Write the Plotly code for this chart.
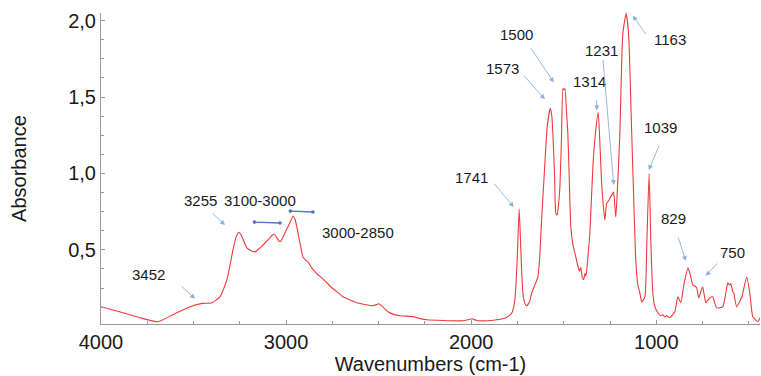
import plotly.graph_objects as go

# FTIR spectrum: wavenumber (cm-1) and absorbance
wavenumber = [
    4000, 3900, 3789, 3692, 3611, 3519, 3452, 3401, 3357, 3320, 3287, 3270,
    3255, 3240, 3212, 3190, 3168, 3140, 3114, 3090, 3071, 3060, 3039, 3030,
    3015, 2996, 2975, 2963, 2952, 2942, 2925, 2909, 2895, 2882, 2861, 2835,
    2807, 2780, 2753, 2709, 2693, 2655, 2618, 2575, 2537, 2515, 2499, 2480,
    2450, 2420, 2385, 2315, 2280, 2240, 2150, 2045, 2010, 1996, 1975, 1953,
    1880, 1829, 1800, 1780, 1764, 1752, 1741, 1732, 1721, 1710, 1700, 1685,
    1673, 1656, 1640, 1630, 1619, 1602, 1590, 1573, 1565, 1559, 1550, 1543,
    1536, 1528, 1521, 1512, 1505, 1500, 1494, 1485, 1478, 1470, 1462, 1450,
    1440, 1425, 1415, 1408, 1400, 1392, 1386, 1380, 1370, 1359, 1343, 1330,
    1314, 1305, 1296, 1289, 1278, 1268, 1255, 1250, 1240, 1231, 1225, 1219,
    1212, 1197, 1181, 1163, 1150, 1133, 1120, 1111, 1100, 1089, 1079, 1062,
    1051, 1039, 1030, 1019, 1008, 992, 978, 965, 955, 945, 935, 927,
    900, 884, 868, 850, 829, 815, 803, 790, 782, 771, 750, 733,
    722, 711, 695, 684, 674, 641, 614, 608, 603, 598, 587, 582,
    566, 538, 512, 495, 479, 452, 440,
]
absorbance = [
    0.128, 0.095, 0.056, 0.030, 0.076, 0.128, 0.150, 0.154, 0.193, 0.304, 0.500, 0.585,
    0.615, 0.590, 0.513, 0.495, 0.487, 0.515, 0.545, 0.575, 0.600, 0.598, 0.558, 0.555,
    0.590, 0.637, 0.690, 0.722, 0.700, 0.650, 0.545, 0.454, 0.435, 0.421, 0.382, 0.345,
    0.317, 0.285, 0.252, 0.210, 0.193, 0.172, 0.154, 0.143, 0.134, 0.140, 0.147, 0.130,
    0.095, 0.078, 0.069, 0.063, 0.052, 0.043, 0.038, 0.036, 0.044, 0.049, 0.040, 0.036,
    0.040, 0.049, 0.065, 0.089, 0.174, 0.430, 0.767, 0.500, 0.219, 0.150, 0.134, 0.160,
    0.219, 0.271, 0.324, 0.450, 0.715, 1.067, 1.300, 1.426, 1.380, 1.263, 1.000, 0.741,
    0.728, 0.800, 0.911, 1.250, 1.556, 1.545, 1.556, 1.400, 1.263, 0.950, 0.650, 0.530,
    0.480, 0.400, 0.360, 0.385, 0.320, 0.305, 0.345, 0.330, 0.450, 0.610, 1.040, 1.250,
    1.400, 1.200, 0.950, 0.826, 0.695, 0.806, 0.826, 0.840, 0.860, 0.878, 0.800, 0.715,
    0.850, 1.263, 1.915, 2.046, 1.915, 1.263, 0.750, 0.434, 0.270, 0.219, 0.160, 0.193,
    0.565, 1.000, 0.565, 0.219, 0.128, 0.089, 0.070, 0.076, 0.062, 0.070, 0.060, 0.056,
    0.095, 0.193, 0.154, 0.280, 0.382, 0.330, 0.271, 0.262, 0.252, 0.187, 0.258, 0.154,
    0.170, 0.187, 0.193, 0.150, 0.121, 0.128, 0.284, 0.275, 0.271, 0.280, 0.226, 0.219,
    0.128, 0.193, 0.323, 0.219, 0.063, 0.030, 0.056,
]

# Band labels: text, label position, arrow tail, arrow head (wavenumber, absorbance)
band_text = ["3452", "3255", "1741", "1573", "1500", "1314", "1231", "1163", "1039", "829", "750"]
band_text_pos = [(3746, 0.337), (3465, 0.826), (1997, 0.976), (1829, 1.687), (1754, 1.909),
                 (1359, 1.602), (1295, 1.804), (927, 1.876), (976, 1.302), (906, 0.708), (587, 0.480)]
band_arrow_tail = [(3573, 0.271), (3406, 0.748), (1883, 0.943), (1721, 1.648), (1683, 1.830),
                   (1322, 1.491), (1289, 1.752), (1052, 1.902), (982, 1.191), (884, 0.591), (663, 0.421)]
band_arrow_head = [(3492, 0.180), (3330, 0.663), (1770, 0.780), (1602, 1.485), (1554, 1.596),
                   (1322, 1.413), (1230, 0.924), (1127, 2.033), (1041, 1.022), (841, 0.428), (733, 0.330)]

# Stretching ranges shown as double-headed spans
range_text = ["3100-3000", "3000-2850"]
range_text_pos = [(3141, 0.826), (2612, 0.611)]
range_span = [((3179, 0.682), (3033, 0.676)), ((2985, 0.754), (2855, 0.748))]

x_range = [4000, 440]
y_range = [0.015, 2.05]

FONT = "Liberation Sans, Arial, sans-serif"
ARROW_BLUE = "#8FB0D8"
SPAN_BLUE = "#4A78C0"

fig = go.Figure()
fig.add_trace(go.Scatter(
    x=wavenumber, y=absorbance, mode="lines",
    line=dict(color="#F03A3A", width=1.1, shape="spline", smoothing=0.5),
    hoverinfo="skip", showlegend=False,
))

annotations = []
for txt, (tx, ty) in zip(band_text, band_text_pos):
    annotations.append(dict(x=tx, y=ty, xref="x", yref="y", text=txt, showarrow=False,
                            font=dict(family=FONT, size=15, color="#1a1a1a")))
for (ax, ay), (hx, hy) in zip(band_arrow_tail, band_arrow_head):
    annotations.append(dict(x=hx, y=hy, ax=ax, ay=ay, xref="x", yref="y", axref="x", ayref="y",
                            text="", showarrow=True, arrowhead=2, arrowsize=1.1,
                            arrowwidth=0.9, arrowcolor=ARROW_BLUE))
for txt, (tx, ty) in zip(range_text, range_text_pos):
    annotations.append(dict(x=tx, y=ty, xref="x", yref="y", text=txt, showarrow=False,
                            font=dict(family=FONT, size=15, color="#1a1a1a")))
for (a, b) in range_span:
    annotations.append(dict(x=b[0], y=b[1], ax=a[0], ay=a[1], xref="x", yref="y",
                            axref="x", ayref="y", text="", showarrow=True,
                            arrowhead=6, startarrowhead=6, arrowside="end+start",
                            arrowsize=0.7, startarrowsize=0.7,
                            arrowwidth=1.3, arrowcolor=SPAN_BLUE))

fig.update_layout(
    width=761, height=376,
    margin=dict(l=101, r=1, t=13, b=52),
    paper_bgcolor="white", plot_bgcolor="white",
    separators=", ",
    font=dict(family=FONT, color="#1a1a1a"),
    annotations=annotations,
    xaxis=dict(
        range=x_range, tick0=0, dtick=1000,
        showline=True, linecolor="#9a9a9a", linewidth=1,
        ticks="inside", ticklen=4, tickcolor="#9a9a9a",
        minor=dict(dtick=250, tick0=0, ticks="inside", ticklen=3, tickcolor="#9a9a9a"),
        showgrid=False, zeroline=False,
        tickfont=dict(family=FONT, size=20, color="#1a1a1a"),
        title=dict(text="Wavenumbers (cm-1)", standoff=2,
                   font=dict(family=FONT, size=20, color="#1a1a1a")),
    ),
    yaxis=dict(
        range=y_range, tick0=0, dtick=0.5, tickformat=".1f",
        showline=True, linecolor="#9a9a9a", linewidth=1,
        ticks="inside", ticklen=4, tickcolor="#9a9a9a",
        minor=dict(dtick=0.125, tick0=0, ticks="inside", ticklen=3, tickcolor="#9a9a9a"),
        showgrid=False, zeroline=False,
        tickfont=dict(family=FONT, size=20, color="#1a1a1a"),
        title=dict(text="Absorbance", standoff=36,
                   font=dict(family=FONT, size=20, color="#1a1a1a")),
    ),
)

fig.write_html("out.html")
